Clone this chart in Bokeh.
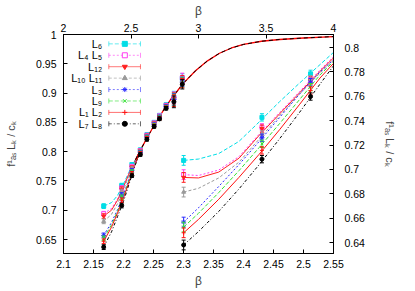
from bokeh.plotting import figure
from bokeh.models import Range1d, LinearAxis, FixedTicker, CustomJSTickFormatter
from bokeh.embed import file_html
from bokeh.resources import INLINE
from bokeh.core.properties import value

# ---------------- tick labels ----------------
bottom_ticks = [2.1, 2.15, 2.2, 2.25, 2.3, 2.35, 2.4, 2.45, 2.5, 2.55]
bottom_labels = ["2.1", "2.15", "2.2", "2.25", "2.3", "2.35", "2.4", "2.45", "2.5", "2.55"]
top_ticks = [2, 2.5, 3, 3.5, 4]
top_labels = ["2", "2.5", "3", "3.5", "4"]
left_ticks = [0.65, 0.7, 0.75, 0.8, 0.85, 0.9, 0.95, 1.0]
left_labels = ["0.65", "0.7", "0.75", "0.8", "0.85", "0.9", "0.95", "1"]
right_ticks = [0.64, 0.66, 0.68, 0.7, 0.72, 0.74, 0.76, 0.78, 0.8]
right_labels = ["0.64", "0.66", "0.68", "0.7", "0.72", "0.74", "0.76", "0.78", "0.8"]

# ---------------- series ----------------
names = ["L₆", "L₄ L₅", "L₁₂", "L₁₀ L₁₁", "L₃", "L₉", "L₁ L₂", "L₇ L₈"]
colors = ["#00dde6", "#ff3cf0", "#ff2020", "#9a9a9a", "#2828ff", "#33e033", "#ff1010", "#000000"]
markers = ["square", "square", "inverted_triangle", "triangle", "asterisk", "x", "cross", "circle"]
filled = [True, False, True, True, True, True, True, True]
dashes = ["4 2", "2 2", "solid", "3 2", "2 2", "4 2", "solid", "3 2 1 2"]

# left data (bottom beta axis, left y axis)
left_beta = [2.167, 2.197, 2.214, 2.228, 2.239, 2.251, 2.260, 2.271, 2.284, 2.298]
left_err = [0.004, 0.004, 0.003, 0.003, 0.003, 0.003, 0.003, 0.003, 0.010, 0.008]
left_L6 = [0.707, 0.742, 0.778, 0.803, 0.829, 0.850, 0.862, 0.880, 0.893, 0.925]
left_L4L5 = [0.694, 0.738, 0.775, 0.802, 0.828, 0.849, 0.861, 0.879, 0.892, 0.926]
left_L12 = [0.690, 0.736, 0.773, 0.801, 0.827, 0.848, 0.860, 0.878, 0.891, 0.922]
left_L10L11 = [0.681, 0.732, 0.771, 0.800, 0.826, 0.847, 0.860, 0.877, 0.890, 0.920]
left_L3 = [0.657, 0.726, 0.768, 0.799, 0.825, 0.846, 0.859, 0.877, 0.889, 0.919]
left_L9 = [0.652, 0.722, 0.766, 0.798, 0.824, 0.845, 0.858, 0.876, 0.888, 0.918]
left_L1L2 = [0.647, 0.717, 0.763, 0.797, 0.823, 0.844, 0.857, 0.875, 0.887, 0.917]
left_L7L8 = [0.637, 0.708, 0.759, 0.795, 0.821, 0.843, 0.856, 0.874, 0.885, 0.915]
left_data = [left_L6, left_L4L5, left_L12, left_L10L11, left_L3, left_L9, left_L1L2, left_L7L8]

# left fit curves
lcurve_beta = [2.167, 2.18, 2.19, 2.20, 2.21, 2.22, 2.23]
lcurve_L6 = [0.707, 0.713, 0.725, 0.745, 0.767, 0.787, 0.806]
lcurve_L4L5 = [0.694, 0.703, 0.719, 0.741, 0.765, 0.786, 0.806]
lcurve_L12 = [0.690, 0.700, 0.717, 0.740, 0.764, 0.786, 0.806]
lcurve_L10L11 = [0.681, 0.693, 0.711, 0.735, 0.761, 0.785, 0.806]
lcurve_L3 = [0.657, 0.679, 0.701, 0.727, 0.755, 0.782, 0.806]
lcurve_L9 = [0.652, 0.675, 0.698, 0.724, 0.753, 0.781, 0.806]
lcurve_L1L2 = [0.647, 0.671, 0.695, 0.721, 0.751, 0.780, 0.805]
lcurve_L7L8 = [0.637, 0.663, 0.689, 0.715, 0.747, 0.778, 0.805]
lcurves = [lcurve_L6, lcurve_L4L5, lcurve_L12, lcurve_L10L11, lcurve_L3, lcurve_L9, lcurve_L1L2, lcurve_L7L8]

# common curve
main_beta = [2.22, 2.23, 2.24, 2.25, 2.26, 2.27, 2.28, 2.29, 2.30, 2.32, 2.34, 2.36, 2.38, 2.40, 2.43, 2.46, 2.50, 2.55]
main_val = [0.786, 0.806, 0.825, 0.843, 0.860, 0.876, 0.891, 0.904, 0.917, 0.938, 0.955, 0.968, 0.977, 0.983, 0.9885, 0.9915, 0.994, 0.9965]

# right data (top beta axis, right y axis)
right_beta = [2.89, 3.47, 3.83]
right_err = [0.004, 0.003, 0.003]
right_L6 = [0.7074, 0.7427, 0.7784]
right_L4L5 = [0.6957, 0.7345, 0.7737]
right_L12 = [0.6934, 0.7335, 0.7730]
right_L10L11 = [0.6814, 0.7287, 0.7740]
right_L3 = [0.6568, 0.7260, 0.7716]
right_L9 = [0.6527, 0.7210, 0.7675]
right_L1L2 = [0.6480, 0.7156, 0.7648]
right_L7L8 = [0.6380, 0.7084, 0.7598]
right_data = [right_L6, right_L4L5, right_L12, right_L10L11, right_L3, right_L9, right_L1L2, right_L7L8]

rcurve_beta = [2.89, 3.0, 3.15, 3.3, 3.45, 3.6, 3.75, 3.9, 4.0]
rcurve_L6 = [0.7074, 0.7085, 0.7130, 0.7230, 0.7390, 0.7555, 0.7710, 0.7860, 0.7960]
rcurve_L4L5 = [0.6957, 0.6950, 0.6995, 0.7105, 0.7290, 0.7465, 0.7640, 0.7815, 0.7925]
rcurve_L12 = [0.6934, 0.6930, 0.6978, 0.7092, 0.7280, 0.7455, 0.7630, 0.7805, 0.7915]
rcurve_L10L11 = [0.6814, 0.6845, 0.6930, 0.7060, 0.7250, 0.7440, 0.7620, 0.7790, 0.7895]
rcurve_L3 = [0.6568, 0.6685, 0.6860, 0.7040, 0.7230, 0.7425, 0.7620, 0.7800, 0.7900]
rcurve_L9 = [0.6527, 0.6640, 0.6810, 0.6990, 0.7180, 0.7375, 0.7575, 0.7775, 0.7885]
rcurve_L1L2 = [0.6480, 0.6590, 0.6755, 0.6935, 0.7125, 0.7325, 0.7535, 0.7750, 0.7870]
rcurve_L7L8 = [0.6380, 0.6490, 0.6655, 0.6840, 0.7040, 0.7250, 0.7470, 0.7700, 0.7850]
rcurves = [rcurve_L6, rcurve_L4L5, rcurve_L12, rcurve_L10L11, rcurve_L3, rcurve_L9, rcurve_L1L2, rcurve_L7L8]

FONT = "Liberation Sans"

p = figure(width=415, height=291,
           x_range=Range1d(2.1, 2.55), y_range=Range1d(0.6261, 1.0),
           output_backend="svg", toolbar_location=None,
           min_border_left=63, min_border_right=82, min_border_top=34, min_border_bottom=38)
p.extra_x_ranges = {"top": Range1d(2.0, 4.0)}
p.extra_y_ranges = {"right": Range1d(0.631, 0.8107)}
p.grid.visible = False
p.outline_line_color = "black"
p.background_fill_color = "white"
p.border_fill_color = "white"


def fmt(ticks, labels):
    return CustomJSTickFormatter(args=dict(t=ticks, l=labels), code="""
        let best = 0;
        for (let i = 1; i < t.length; i++) {
            if (Math.abs(t[i] - tick) < Math.abs(t[best] - tick)) best = i;
        }
        return l[best];
    """)


def style(ax, ticks, labels, label, lstand, astand):
    ax.ticker = FixedTicker(ticks=ticks)
    ax.formatter = fmt(ticks, labels)
    ax.axis_label = label
    ax.axis_label_text_font = FONT
    ax.axis_label_text_font_style = "normal"
    ax.axis_label_text_font_size = "11px"
    ax.major_label_text_font = FONT
    ax.major_label_text_font_size = "10.5px"
    ax.major_label_text_color = "black"
    ax.major_tick_in = 4
    ax.major_tick_out = 0
    ax.minor_tick_line_color = None
    ax.major_label_standoff = lstand
    ax.axis_label_standoff = astand
    ax.axis_line_color = "black"


ylab = "f¹ₐₛ Lₖ / cₖ"
style(p.xaxis[0], bottom_ticks, bottom_labels, "β", 6, 3)
p.xaxis[0].axis_label_text_font_size = "12px"
style(p.yaxis[0], left_ticks, left_labels, ylab, 7, 16)

top_axis = LinearAxis(x_range_name="top")
style(top_axis, top_ticks, top_labels, "β", 3, 3)
top_axis.axis_label_text_font_size = "12px"
p.add_layout(top_axis, "above")

right_axis = LinearAxis(y_range_name="right")
style(right_axis, right_ticks, right_labels, ylab, 11, 16)
p.add_layout(right_axis, "right")

# ---------------- curves ----------------
for i in range(len(names)):
    p.line(lcurve_beta, lcurves[i], line_color=colors[i], line_width=1, line_dash=dashes[i])
    p.line(rcurve_beta, rcurves[i], line_color=colors[i], line_width=1, line_dash=dashes[i],
           x_range_name="top", y_range_name="right")

p.line(main_beta, main_val, line_color="#ff0000", line_width=1.3)
p.line(main_beta, main_val, line_color="black", line_width=1, line_dash="4 3")


def draw_points(xs, ys, errs, i, **rn):
    lo = [y - e for y, e in zip(ys, errs)]
    hi = [y + e for y, e in zip(ys, errs)]
    p.segment(xs, lo, xs, hi, line_color=colors[i], line_width=1, **rn)
    p.dash(xs, lo, size=4, line_color=colors[i], line_width=1, **rn)
    p.dash(xs, hi, size=4, line_color=colors[i], line_width=1, **rn)
    p.scatter(xs, ys, marker=markers[i], size=4 if markers[i] != "asterisk" else 5,
              line_color=colors[i], line_width=1,
              fill_color=colors[i] if filled[i] else "white", **rn)


for i in range(len(names)):
    draw_points(left_beta, left_data[i], left_err, i)
    draw_points(right_beta, right_data[i], right_err, i, x_range_name="top", y_range_name="right")

# ---------------- legend (drawn by hand, gnuplot style) ----------------
leg_y0, leg_dy = 0.984, 0.0195
leg_text_x, leg_x0, leg_x1, leg_xm = 2.1645, 2.1755, 2.2283, 2.2022
for i in range(len(names)):
    yy = leg_y0 - i * leg_dy
    p.text([leg_text_x], [yy], text=[names[i]], text_align="right", text_baseline="middle",
           text_font=value(FONT), text_font_size="11px", text_color="black")
    p.segment([leg_x0], [yy], [leg_x1], [yy], line_color=colors[i], line_width=1,
              line_dash=dashes[i], line_alpha=0.6)
    p.dash([leg_x0, leg_x1], [yy, yy], size=5, angle=1.5708, line_color=colors[i],
           line_width=1, line_alpha=0.6)
    p.scatter([leg_xm], [yy], marker=markers[i], size=5, line_color=colors[i], line_width=1,
              fill_color=colors[i] if filled[i] else "white")

open("out.html", "w").write(file_html(p, INLINE))
